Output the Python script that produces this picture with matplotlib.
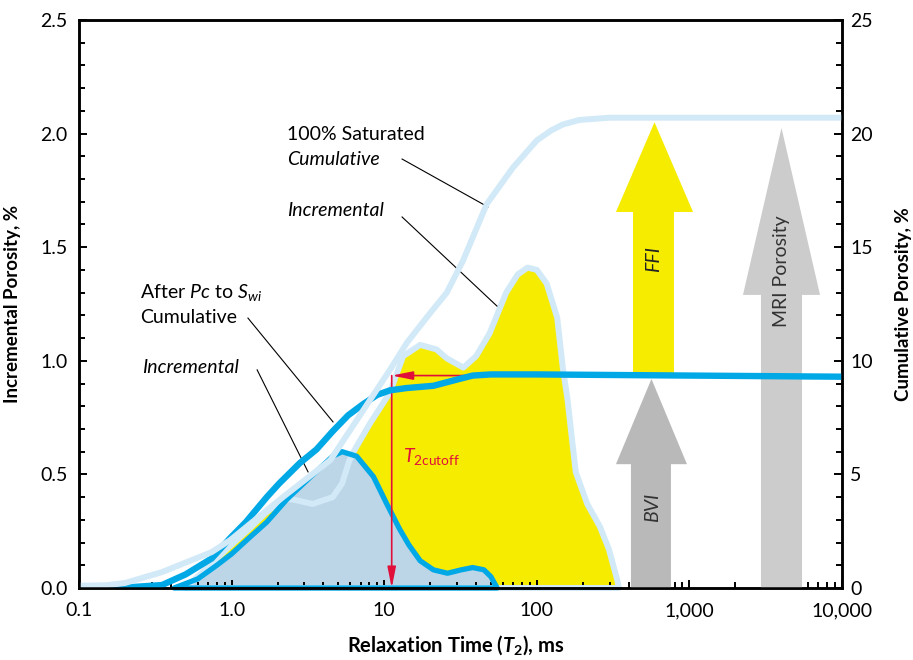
import matplotlib
matplotlib.use('Agg')
import matplotlib.pyplot as plt
from matplotlib.ticker import MultipleLocator
import numpy as np

plt.rcParams['font.family'] = 'Lato'
plt.rcParams['mathtext.fontset'] = 'custom'
plt.rcParams['mathtext.rm'] = 'Lato'
plt.rcParams['mathtext.it'] = 'Lato:italic'
plt.rcParams['mathtext.bf'] = 'Lato:bold'
plt.rcParams['mathtext.bfit'] = 'Lato:bold:italic'

# 100% saturated, incremental porosity (left axis, %)
t2_sat_inc = [0.5, 0.6, 0.96, 1.3, 1.67, 2.17, 2.5, 3.4, 4.6, 5.3, 5.9, 6.3, 8.0, 10.9,
              13.3, 17.2, 22, 25.8, 33, 40, 49, 63, 75, 87, 100, 116, 136, 148,
              159, 171, 180, 214, 259, 297, 338, 345]
sat_inc = [0.0, 0.05, 0.18, 0.26, 0.33, 0.39, 0.39, 0.37, 0.40, 0.46, 0.56, 0.60, 0.72, 0.86,
           1.02, 1.07, 1.05, 1.01, 0.97, 1.02, 1.12, 1.30, 1.38, 1.41, 1.40, 1.34, 1.19, 0.97,
           0.83, 0.64, 0.51, 0.37, 0.27, 0.17, 0.03, 0.0]

# 100% saturated, cumulative porosity (right axis, %)
t2_sat_cum = [0.1, 0.15, 0.2, 0.35, 0.74, 0.98, 2.17, 4.44, 10.9, 14.1, 20.0, 25.7, 32.8,
              47.0, 69.7, 100, 125, 148, 190, 300, 10000]
sat_cum = [0.1, 0.12, 0.22, 0.70, 1.58, 2.11, 4.0, 5.63, 9.6, 10.8, 12.1, 13.0, 14.4,
           16.9, 18.5, 19.7, 20.15, 20.4, 20.6, 20.7, 20.7]

# after Pc to Swi, incremental porosity (left axis, %)
t2_swi_inc = [0.42, 0.6, 0.8, 1.0, 1.3, 1.7, 2.3, 3.3, 4.6, 5.3, 6.6, 8.5, 10.4, 12.6,
              14.5, 17.2, 21, 26, 32, 38, 45, 50, 55]
swi_inc = [0.0, 0.04, 0.10, 0.15, 0.22, 0.29, 0.39, 0.49, 0.58, 0.60, 0.58, 0.49, 0.37, 0.26,
           0.19, 0.12, 0.08, 0.065, 0.08, 0.09, 0.08, 0.05, 0.0]

# after Pc to Swi, cumulative porosity (right axis, %)
t2_swi_cum = [0.1, 0.2, 0.35, 0.5, 0.74, 0.98, 1.24, 1.7, 2.05, 2.8, 3.6, 4.6, 5.8, 7.3,
              9.0, 10.9, 14, 21, 31, 38, 50, 100, 10000]
swi_cum = [0.0, 0.02, 0.13, 0.6, 1.3, 2.2, 2.9, 4.0, 4.6, 5.5, 6.1, 6.9, 7.6, 8.1,
           8.5, 8.7, 8.8, 8.9, 9.2, 9.35, 9.4, 9.4, 9.3]

t2_cutoff = 11.2
bvi = 9.35
mri_por = 20.7

x_ticks = [0.1, 1, 10, 100, 1000, 10000]
x_tick_labels = ['0.1', '1.0', '10', '100', '1,000', '10,000']

yellow = '#f6ec00'
light_blue = '#d2e9f8'
dark_blue = '#00a8e6'
blue_gray = '#bcd6e8'
red = '#e0103a'


def block_arrow(ax, shaft, head, y0, ybase, ytip, color):
    xc = np.sqrt(head[0] * head[1])
    px = [shaft[0], shaft[0], head[0], xc, head[1], shaft[1], shaft[1]]
    py = [y0, ybase, ybase, ytip, ybase, ybase, y0]
    ax.fill(px, py, color=color, lw=0, zorder=1)


fig = plt.figure(figsize=(9.13, 6.6), dpi=100)
ax = fig.add_axes([79 / 913, 1 - 588 / 660, 763 / 913, 568 / 660])
ax2 = ax.twinx()

# incremental curves (left axis)
ax.fill(t2_sat_inc, sat_inc, color=yellow, lw=0, zorder=1)
ax.fill(t2_swi_inc, swi_inc, color=blue_gray, lw=0, zorder=1.5)
ax.fill(t2_sat_inc, sat_inc, facecolor='none', edgecolor=light_blue, lw=4.3,
        joinstyle='round', zorder=2, clip_on=False)
ax.fill(t2_swi_inc, swi_inc, facecolor='none', edgecolor=dark_blue, lw=3.8,
        joinstyle='round', zorder=2.2, clip_on=False)

# arrows (right axis, %)
block_arrow(ax2, (427, 792), (330, 1057), bvi, 16.55, mri_por - 0.2, yellow)
block_arrow(ax2, (414, 757), (330, 964), 0, 5.45, bvi - 0.15, '#b9b9b9')
block_arrow(ax2, (2944, 5470), (2244, 7180), 0, 12.9, 20.25, '#cccccc')
ax2.text(582, 14.5, 'FFI', rotation=90, style='italic', fontsize=14,
         ha='center', va='center', color='#222222', zorder=3)
ax2.text(577, 3.57, 'BVI', rotation=90, style='italic', fontsize=14,
         ha='center', va='center', color='#333333', zorder=3)
ax2.text(4010, 13.95, 'MRI Porosity', rotation=90, fontsize=14,
         ha='center', va='center', color='#333333', zorder=3)

# T2 cutoff
ax2.annotate('', xy=(t2_cutoff, 0), xytext=(t2_cutoff, bvi),
             arrowprops=dict(arrowstyle='-|>,head_length=0.9,head_width=0.18',
                             color=red, lw=1.2, shrinkA=0, shrinkB=0,
                             mutation_scale=14), zorder=1.5)
ax2.annotate('', xy=(t2_cutoff, bvi), xytext=(40, bvi),
             arrowprops=dict(arrowstyle='-|>,head_length=0.9,head_width=0.18',
                             color=red, lw=1.2, shrinkA=0, shrinkB=0,
                             mutation_scale=14), zorder=1.5)

# cumulative curves (right axis)
ax2.plot(t2_swi_cum, swi_cum, color=dark_blue, lw=4.6, solid_joinstyle='round',
         solid_capstyle='butt', zorder=2)
ax2.plot(t2_sat_cum, sat_cum, color=light_blue, lw=4.3, solid_joinstyle='round',
         solid_capstyle='butt', zorder=2.2)

# labels
fs = 14
ax.text(2.31, 1.972, '100% Saturated', fontsize=fs, va='baseline')
ax.text(2.31, 1.862, 'Cumulative', fontsize=fs, style='italic', va='baseline')
ax.plot([13.1, 47.9], [1.888, 1.677], color='black', lw=0.8, zorder=3)
ax.text(2.31, 1.637, 'Incremental', fontsize=fs, style='italic', va='baseline')
ax.plot([13.1, 54.8], [1.633, 1.241], color='black', lw=0.8, zorder=3)
ax.text(0.251, 1.276, r'After $Pc$ to $S_{wi}$', fontsize=fs, va='baseline')
ax.text(0.251, 1.166, 'Cumulative', fontsize=fs, va='baseline')
ax.plot([1.28, 4.62], [1.188, 0.731], color='black', lw=0.8, zorder=3)
ax.text(0.259, 0.946, 'Incremental', fontsize=fs, style='italic', va='baseline')
ax.plot([1.47, 3.17], [0.960, 0.511], color='black', lw=0.8, zorder=3)
ax.text(13.3, 0.555, r'$T_{\mathrm{2cutoff}}$', fontsize=fs, color=red, va='baseline')

# axes
ax.set_xscale('log')
ax.set_xlim(0.1, 10000)
ax.set_ylim(0, 2.5)
ax2.set_ylim(0, 25)
ax.set_xticks(x_ticks)
ax.set_xticklabels(x_tick_labels)
ax.yaxis.set_major_locator(MultipleLocator(0.5))
ax.yaxis.set_minor_locator(MultipleLocator(0.1))
ax.yaxis.set_major_formatter(matplotlib.ticker.FormatStrFormatter('%.1f'))
ax2.yaxis.set_major_locator(MultipleLocator(5))
ax2.yaxis.set_minor_locator(MultipleLocator(1))

for a in (ax, ax2):
    for s in a.spines.values():
        s.set_linewidth(1.8)
ax.tick_params(which='both', direction='in', width=1.4, labelsize=14, top=False, right=False)
ax.tick_params(which='major', length=6)
ax.tick_params(which='minor', length=4)
ax.tick_params(axis='y', pad=8)
ax.tick_params(axis='x', pad=10)
ax2.tick_params(which='both', direction='in', width=1.4, labelsize=14, left=False)
ax2.tick_params(which='major', length=6, pad=6)
ax2.tick_params(which='minor', length=4.5)

ax.set_ylabel('Incremental Porosity, %', fontsize=13.5, fontweight='bold')
ax.yaxis.set_label_coords(-0.076, 0.5)
ax2.set_ylabel('Cumulative Porosity, %', fontsize=13.5, fontweight='bold')
ax2.yaxis.set_label_coords(1.07, 0.5)
ax.set_xlabel(r'Relaxation Time ($\mathbfit{T}_{\mathbf{2}}$), ms', fontsize=14.5,
              fontweight='bold', va='center')
ax.xaxis.set_label_coords(0.494, -0.100)

fig.savefig('out.png', dpi=100)
